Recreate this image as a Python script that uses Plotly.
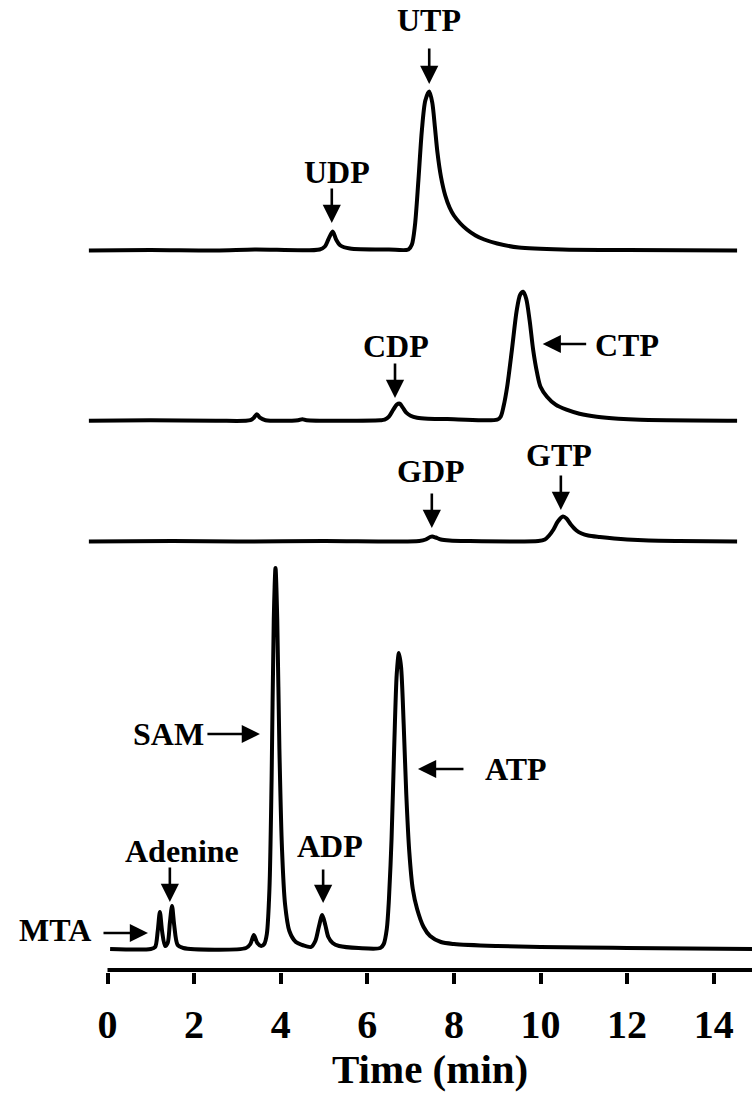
import plotly.graph_objects as go

# ---------------- data (signal, arbitrary units) -------------
# UTP/UDP chromatogram
u_time = [-0.43, 1.0, 2.5, 3.4, 4.9, 5.02, 5.1, 5.2, 5.28, 5.38, 5.6, 6.5, 6.95, 7.03, 7.1, 7.18,
          7.26, 7.34, 7.43, 7.5, 7.56, 7.62, 7.7, 7.8, 7.9, 8.0, 8.15, 8.3, 8.5, 8.7, 9.0, 9.5,
          10.5, 12.0, 14.54]
u_sig = [0, 0.5, 0, 1, 1, 4, 11, 19, 11, 5, 2, 1, 1, 6, 25, 70, 120, 150, 159, 148, 124, 98, 74,
         55, 43, 35, 27, 21, 15, 11, 7, 3, 1, 0.5, 0]

# CTP/CDP chromatogram
c_time = [-0.43, 1.0, 2.5, 3.3, 3.38, 3.45, 3.52, 3.65, 4.4, 4.5, 4.6, 6.3, 6.4, 6.5, 6.6, 6.68,
          6.75, 6.82, 6.9, 7.0, 7.15, 7.4, 8.0, 9.0, 9.08, 9.15, 9.23, 9.34, 9.45, 9.53, 9.6,
          9.67, 9.75, 9.83, 9.92, 10.0, 10.15, 10.35, 10.6, 10.9, 11.3, 11.8, 12.3, 14.54]
c_sig = [0, 0.5, 0, 0.5, 3, 6.5, 3, 0.5, 0.5, 1.5, 0.5, 0.5, 1, 4, 11, 16, 17, 13, 8, 5, 3, 2,
         1.5, 1, 4, 15, 34, 71, 110, 126, 129, 122, 100, 71, 48, 34, 24, 16, 11, 7, 4, 2, 1, 0]

# GTP/GDP chromatogram
g_time = [-0.43, 1.5, 3.0, 5.0, 7.2, 7.35, 7.45, 7.5, 7.58, 7.7, 7.9, 8.3, 9.95, 10.1, 10.2,
          10.3, 10.4, 10.52, 10.6, 10.7, 10.83, 10.95, 11.1, 11.37, 11.7, 12.0, 12.5, 13.2, 14.54]
g_sig = [0, 0.5, 0, 0.5, 0.5, 2, 4.5, 5, 4, 2, 1, 0.5, 0.5, 2, 6, 12, 20, 25, 23, 17, 11, 8, 6,
         4.5, 3, 2, 1, 0.5, 0]

# ATP/ADP/SAM/Adenine/MTA chromatogram
a_time = [0.06, 1.0, 1.1, 1.16, 1.21, 1.26, 1.33, 1.39, 1.44, 1.49, 1.54, 1.62, 1.75, 3.2, 3.3,
          3.38, 3.46, 3.55, 3.62, 3.68, 3.74, 3.79, 3.84, 3.88, 3.92, 3.97, 4.03, 4.1, 4.2,
          4.35, 4.5, 4.7, 4.8, 4.88, 4.96, 5.03, 5.1, 5.2, 5.35, 5.8, 6.3, 6.38, 6.45, 6.5,
          6.56, 6.62, 6.68, 6.73, 6.78, 6.84, 6.9, 6.97, 7.05, 7.15, 7.3, 7.45, 7.7, 8.0,
          9.0, 10.0, 11.0, 12.0, 14.9]
a_sig = [0, 0, 2, 18, 37, 18, 3, 6, 26, 43, 24, 4, 1, 1, 5, 14, 6, 3, 5, 15, 60, 170, 330, 381,
         330, 200, 100, 45, 18, 7, 4, 2, 8, 22, 34, 24, 12, 6, 3, 1, 1, 5, 20, 50, 110, 200,
         275, 296, 282, 225, 155, 97, 60, 40, 22, 13, 7, 5, 3, 2, 1.5, 1, 0]

tick_vals = [0, 2, 4, 6, 8, 10, 12, 14]
tick_text = ["0", "2", "4", "6", "8", "10", "12", "14"]
x_title = "Time (min)"

# ---------------- layout helpers -------------------------------------------------
W, H = 752, 1094
PLOT_H = 972                  # plot area height in px (1 y-unit = 1 px)
X0_PX, PX_PER_MIN = 107.5, 43.3
x_range = [-X0_PX / PX_PER_MIN, (W - X0_PX) / PX_PER_MIN]

offsets = {"U": 719.5, "C": 549.3, "G": 428.5, "A": 21.0}
FONT = "Liberation Serif, Times New Roman, serif"
LW = 4

fig = go.Figure()
for key, t, s in [("U", u_time, u_sig), ("C", c_time, c_sig),
                  ("G", g_time, g_sig), ("A", a_time, a_sig)]:
    fig.add_trace(go.Scatter(
        x=t, y=[v + offsets[key] for v in s], mode="lines",
        line=dict(color="black", width=LW, shape="spline", smoothing=0.8),
        hoverinfo="skip", showlegend=False))

# x axis line (starts at 0)
fig.add_shape(type="line", xref="x", yref="y", x0=0, x1=x_range[1], y0=0, y1=0,
              line=dict(color="black", width=4))

# ---------------- annotations --------------------------------------------------
lab_font = dict(family=FONT, size=32, color="black", weight="bold")
# (text, x, y) label centres
labels = [("UTP", 7.42, 950), ("UDP", 5.31, 798), ("CDP", 6.66, 624), ("CTP", 12.0, 625),
          ("GDP", 7.47, 499), ("GTP", 10.42, 515), ("SAM", 1.40, 236), ("ATP", 9.43, 201),
          ("Adenine", 1.73, 119), ("ADP", 5.14, 124), ("MTA", -1.21, 40)]
for txt, x, y in labels:
    fig.add_annotation(x=x, y=y, text=txt, showarrow=False, font=lab_font,
                       xanchor="center", yanchor="middle")

# arrows: (tip x, tip y, ax px, ay px)
arrows = [(7.43, 886, 0, -37), (5.18, 747, 0, -36), (6.64, 572, 0, -36), (7.49, 442, 0, -36),
          (10.47, 460, 0, -36), (1.44, 68, 0, -36), (4.98, 67, 0, -35),
          (0.935, 37, -46, 0), (3.52, 236, -54, 0), (7.17, 201, 47, 0), (10.05, 626, 45, 0)]
for x, y, ax, ay in arrows:
    fig.add_annotation(x=x, y=y, ax=ax, ay=ay, text="", showarrow=True,
                       arrowhead=2, arrowsize=1.4, arrowwidth=2.6, arrowcolor="black",
                       standoff=0, startstandoff=0)

fig.add_annotation(x=430 / W, y=(PLOT_H - 1069) / PLOT_H, xref="paper", yref="paper",
                   text=x_title, showarrow=False, xanchor="center", yanchor="middle",
                   font=dict(family=FONT, size=41, color="black", weight="bold"))

fig.update_layout(
    width=W, height=H, margin=dict(l=0, r=0, t=0, b=H - PLOT_H),
    paper_bgcolor="white", plot_bgcolor="white",
    xaxis=dict(range=x_range, showgrid=False, zeroline=False, showline=False,
               tickmode="array", tickvals=tick_vals, ticktext=tick_text,
               ticks="outside", ticklen=11, tickwidth=4, tickcolor="black",
               ticklabelstandoff=6,
               tickfont=dict(family=FONT, size=40, color="black", weight="bold")),
    yaxis=dict(range=[-2, PLOT_H - 2], visible=False, showgrid=False, zeroline=False),
)

fig.write_html("out.html")
